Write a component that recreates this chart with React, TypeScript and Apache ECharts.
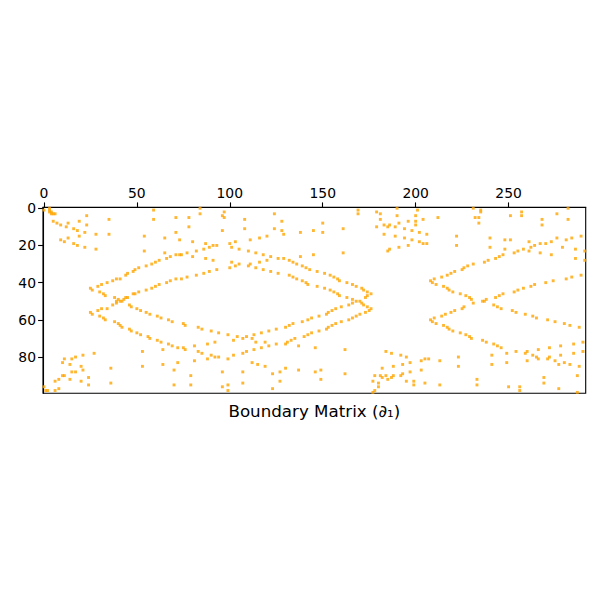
import React, { useEffect, useRef } from "react";
import * as echarts from "echarts";

// Tick labels
const xTickValues = [0, 50, 100, 150, 200, 250];
const yTickValues = [0, 20, 40, 60, 80];

// Matrix shape (rows x columns)
const nRows = 100;
const nCols = 292;

// Non-zero entries [column, row], by column band
const band0to35: [number, number][] = [
  [0, 1], [3, 0], [3, 1], [3, 2], [4, 2], [4, 3], [5, 3], [6, 3],
  [23, 4], [19, 7], [5, 7], [7, 8], [9, 9], [13, 8], [12, 10], [16, 11], [18, 12], [23, 9], [22, 13], [19, 15], [28, 14],
  [9, 17], [13, 16], [11, 18], [16, 19], [18, 20], [22, 21], [28, 22],
  [25, 43], [26, 44], [29, 42], [31, 41], [30, 45], [32, 46], [33, 47],
  [25, 56], [26, 57], [29, 55], [31, 54], [30, 58], [32, 59], [33, 60],
  [27, 78], [21, 79], [17, 80], [15, 81], [11, 81], [10, 83], [14, 84], [20, 85], [17, 88], [15, 88], [11, 90], [10, 90],
  [8, 92], [6, 93], [21, 87], [14, 92], [20, 93], [24, 91], [24, 95], [0, 96], [1, 98], [2, 98], [6, 98], [8, 97],
];

const band35to70: [number, number][] = [
  [35, 6], [35, 14], [59, 1], [59, 6], [54, 15], [54, 23], [65, 16],
  [34, 40], [37, 39], [39, 38], [41, 38], [44, 36], [45, 35], [48, 34], [49, 33], [51, 32], [55, 31], [58, 30], [60, 29],
  [62, 28], [65, 24], [66, 27], [68, 26],
  [34, 54], [37, 52], [39, 51], [41, 50], [43, 49], [44, 48], [45, 48], [48, 46], [49, 46], [51, 45], [55, 44], [58, 43],
  [60, 42], [62, 41], [66, 40], [68, 39],
  [38, 48], [40, 49], [42, 50], [39, 50], [46, 52], [47, 53], [50, 54], [52, 55], [55, 56], [57, 57], [61, 58], [63, 59],
  [67, 60], [69, 61],
  [38, 61], [40, 62], [41, 63], [42, 64], [46, 65], [47, 66], [50, 67], [52, 68], [56, 69], [57, 70], [61, 71], [63, 72],
  [67, 73], [69, 74],
  [53, 77], [64, 76], [53, 85], [64, 84], [36, 86], [36, 94],
];

const band70to106: [number, number][] = [
  [84, 0], [84, 3], [71, 5], [78, 5], [78, 10], [71, 13], [73, 17], [80, 18], [87, 19], [97, 2], [96, 4], [97, 5], [96, 12],
  [73, 25], [74, 25], [77, 24], [80, 26], [82, 23], [86, 22], [87, 27], [89, 21], [91, 20], [93, 20], [91, 28], [100, 19],
  [101, 21], [103, 18], [105, 22], [101, 29], [100, 32], [103, 31], [105, 30],
  [71, 38], [71, 25], [74, 38], [77, 37], [82, 36], [86, 35], [89, 34], [93, 33],
  [75, 62], [76, 63], [83, 64], [85, 65], [90, 66], [94, 67], [99, 68], [102, 71], [104, 69],
  [72, 75], [75, 75], [76, 76], [81, 74], [83, 77], [85, 78], [88, 73], [92, 72], [90, 79], [92, 80], [94, 80], [88, 81],
  [81, 82], [99, 81], [102, 79], [72, 83], [70, 87], [79, 90], [96, 88], [70, 95], [79, 95], [96, 96], [99, 95], [99, 98],
];

const band106to142: [number, number][] = [
  [124, 3], [108, 6], [128, 7], [108, 11], [124, 11], [128, 12], [129, 14], [138, 13], [111, 17], [116, 16], [120, 15],
  [110, 23], [114, 24], [118, 25], [122, 26], [126, 27], [129, 27], [132, 28], [134, 29], [136, 30], [139, 31], [141, 32],
  [138, 26],
  [110, 31], [111, 30], [114, 32], [116, 29], [118, 33], [120, 28], [122, 34], [126, 35], [132, 36], [134, 37], [136, 38],
  [139, 39], [141, 40],
  [107, 70], [109, 69], [112, 70], [113, 68], [114, 72], [117, 67], [119, 72], [121, 66], [125, 65], [130, 64], [132, 63],
  [134, 62], [139, 61],
  [107, 78], [109, 77], [113, 76], [117, 75], [121, 74], [125, 73], [130, 73], [131, 72], [133, 71], [135, 70], [137, 74],
  [140, 69],
  [112, 83], [115, 84], [119, 85], [107, 88], [107, 94], [123, 89], [127, 88], [130, 86], [127, 93], [123, 97], [137, 87],
];

const band142to178: [number, number][] = [
  [169, 1], [169, 3], [150, 8], [145, 12], [150, 13], [161, 11], [145, 25], [161, 24],
  [143, 33], [147, 34], [151, 35], [154, 36], [156, 37], [158, 38], [159, 39], [163, 40], [166, 41], [168, 42], [171, 43],
  [172, 44], [174, 45], [176, 46],
  [142, 41], [147, 42], [151, 43], [154, 44], [156, 45], [158, 46], [159, 47], [163, 48], [166, 49], [168, 50], [171, 51],
  [172, 52], [174, 53], [176, 54], [173, 48], [174, 47],
  [142, 60], [144, 59], [148, 58], [142, 68], [144, 67], [148, 66], [152, 65], [153, 64], [155, 63], [157, 62], [160, 61],
  [164, 60], [166, 59], [168, 58], [170, 57], [173, 56], [175, 55],
  [152, 57], [153, 56], [155, 55], [157, 54], [160, 53], [164, 52], [166, 51], [170, 50],
  [146, 75], [162, 76], [146, 88], [149, 87], [149, 92], [162, 89], [178, 90], [177, 93], [178, 98], [177, 99],
];

const band178to214: [number, number][] = [
  [179, 2], [181, 3], [190, 0], [190, 4], [201, 1], [200, 4], [181, 6], [196, 7], [204, 6], [179, 10], [183, 9], [185, 10],
  [186, 9], [189, 10], [191, 8], [194, 11], [200, 7], [200, 9], [198, 12], [202, 13], [206, 14], [212, 5], [183, 14],
  [189, 15], [194, 16], [198, 17], [202, 18], [204, 19], [206, 19], [196, 20], [191, 21], [186, 22], [185, 23],
  [208, 39], [209, 40], [210, 38], [211, 41], [214, 37], [208, 60], [209, 61], [210, 59], [211, 62], [214, 58],
  [184, 77], [187, 78], [192, 79], [195, 80], [193, 84], [197, 83], [203, 82], [205, 81], [207, 81], [213, 82], [182, 86],
  [188, 85], [203, 87], [181, 90], [184, 90], [187, 91], [188, 90], [192, 90], [193, 89], [197, 88], [182, 91],
  [180, 94], [185, 92], [195, 93], [199, 93], [199, 95], [205, 94], [213, 95], [180, 96],
];

const band214to250: [number, number][] = [
  [231, 0], [232, 5], [234, 5], [235, 1], [235, 2], [234, 8], [222, 15], [222, 20], [240, 16], [240, 21], [248, 17],
  [217, 36], [219, 35], [221, 34], [225, 33], [226, 32], [228, 31], [231, 30], [237, 29], [239, 28], [243, 27], [245, 26],
  [247, 25], [248, 22],
  [215, 42], [217, 43], [218, 44], [220, 45], [224, 46], [227, 47], [229, 48], [230, 49], [231, 51], [236, 50], [237, 50],
  [238, 49], [242, 52], [244, 53], [246, 54], [243, 48], [245, 47], [247, 46],
  [216, 57], [219, 56], [221, 55], [225, 54], [226, 53],
  [215, 63], [217, 64], [218, 65], [220, 66], [224, 67], [227, 68], [229, 69], [230, 70], [236, 71], [238, 72], [242, 73],
  [244, 74], [246, 75], [249, 78],
  [223, 80], [223, 85], [241, 79], [241, 84], [249, 83], [233, 92], [233, 95],
];

const band250to292: [number, number][] = [
  [251, 4], [257, 2], [257, 4], [268, 6], [268, 9], [276, 3], [282, 0], [282, 6], [251, 17], [253, 24], [255, 23], [258, 22],
  [261, 18], [261, 23], [262, 21], [264, 20], [267, 19], [267, 24], [270, 19], [273, 18], [273, 25], [276, 16], [279, 21],
  [281, 17], [284, 16], [286, 22], [286, 27], [289, 15], [291, 23], [291, 28],
  [253, 45], [255, 44], [258, 43], [262, 42], [264, 41], [270, 40], [274, 39], [281, 38], [284, 37], [289, 36],
  [252, 55], [254, 56], [259, 57], [263, 58], [265, 59], [271, 60], [275, 61], [280, 62], [283, 63], [288, 64],
  [254, 77], [259, 78], [260, 77], [260, 82], [263, 79], [265, 80], [266, 76], [266, 81], [271, 81], [272, 75], [272, 80],
  [275, 82], [277, 84], [278, 74], [278, 79], [280, 83], [283, 84], [285, 73], [285, 78], [288, 85], [290, 72], [290, 77],
  [250, 96], [256, 96], [256, 98], [269, 91], [269, 94], [277, 97], [287, 90], [287, 99],
];

const xLabel = "Boundary Matrix (∂₁)";

const FONT = "DejaVu Sans";

export default function App() {
  const ref = useRef<HTMLDivElement>(null);
  useEffect(() => {
    if (!ref.current) return;
    const chart = echarts.init(ref.current, null, { renderer: "svg" });
    const points = [
      ...band0to35, ...band35to70, ...band70to106, ...band106to142,
      ...band142to178, ...band178to214, ...band214to250, ...band250to292,
    ];
    const gridLeft = 43;
    const gridTop = 207.3;
    const gridW = 542.7;
    const gridH = 186;
    chart.setOption({
      animation: false,
      backgroundColor: "#ffffff",
      grid: {
        left: gridLeft,
        top: gridTop,
        width: gridW,
        height: gridH,
        show: true,
        borderColor: "#000",
        borderWidth: 1.1,
        backgroundColor: "transparent",
      },
      xAxis: {
        type: "value",
        position: "top",
        min: -0.5,
        max: nCols - 0.5,
        axisLine: { show: true, onZero: false, lineStyle: { color: "#000", width: 1.1 } },
        axisTick: { show: true, length: 4.9, lineStyle: { color: "#000", width: 1.1 }, customValues: xTickValues },
        axisLabel: { customValues: xTickValues, fontSize: 13.9, color: "#000", fontFamily: FONT, margin: 7 },
        splitLine: { show: false },
      },
      yAxis: {
        type: "value",
        inverse: true,
        min: -0.5,
        max: nRows - 0.5,
        axisLine: { show: true, onZero: false, lineStyle: { color: "#000", width: 1.1 } },
        axisTick: { show: true, length: 4.9, lineStyle: { color: "#000", width: 1.1 }, customValues: yTickValues },
        axisLabel: { customValues: yTickValues, fontSize: 13.9, color: "#000", fontFamily: FONT, margin: 7 },
        splitLine: { show: false },
      },
      series: [
        {
          type: "scatter",
          data: points,
          symbol: "rect",
          symbolSize: 2.9,
          itemStyle: { color: "#FFA500" },
          silent: true,
        },
      ],
      graphic: [
        {
          type: "text",
          x: gridLeft + gridW / 2,
          y: gridTop + gridH + 9,
          style: {
            text: xLabel,
            fill: "#000",
            fontSize: 16.7,
            fontFamily: FONT,
            align: "center",
            verticalAlign: "top",
          },
        },
      ],
    });
    return () => chart.dispose();
  }, []);
  return (
    <div
      ref={ref}
      style={{ position: "fixed", left: 0, top: 0, width: 600, height: 600, background: "#fff" }}
    />
  );
}
